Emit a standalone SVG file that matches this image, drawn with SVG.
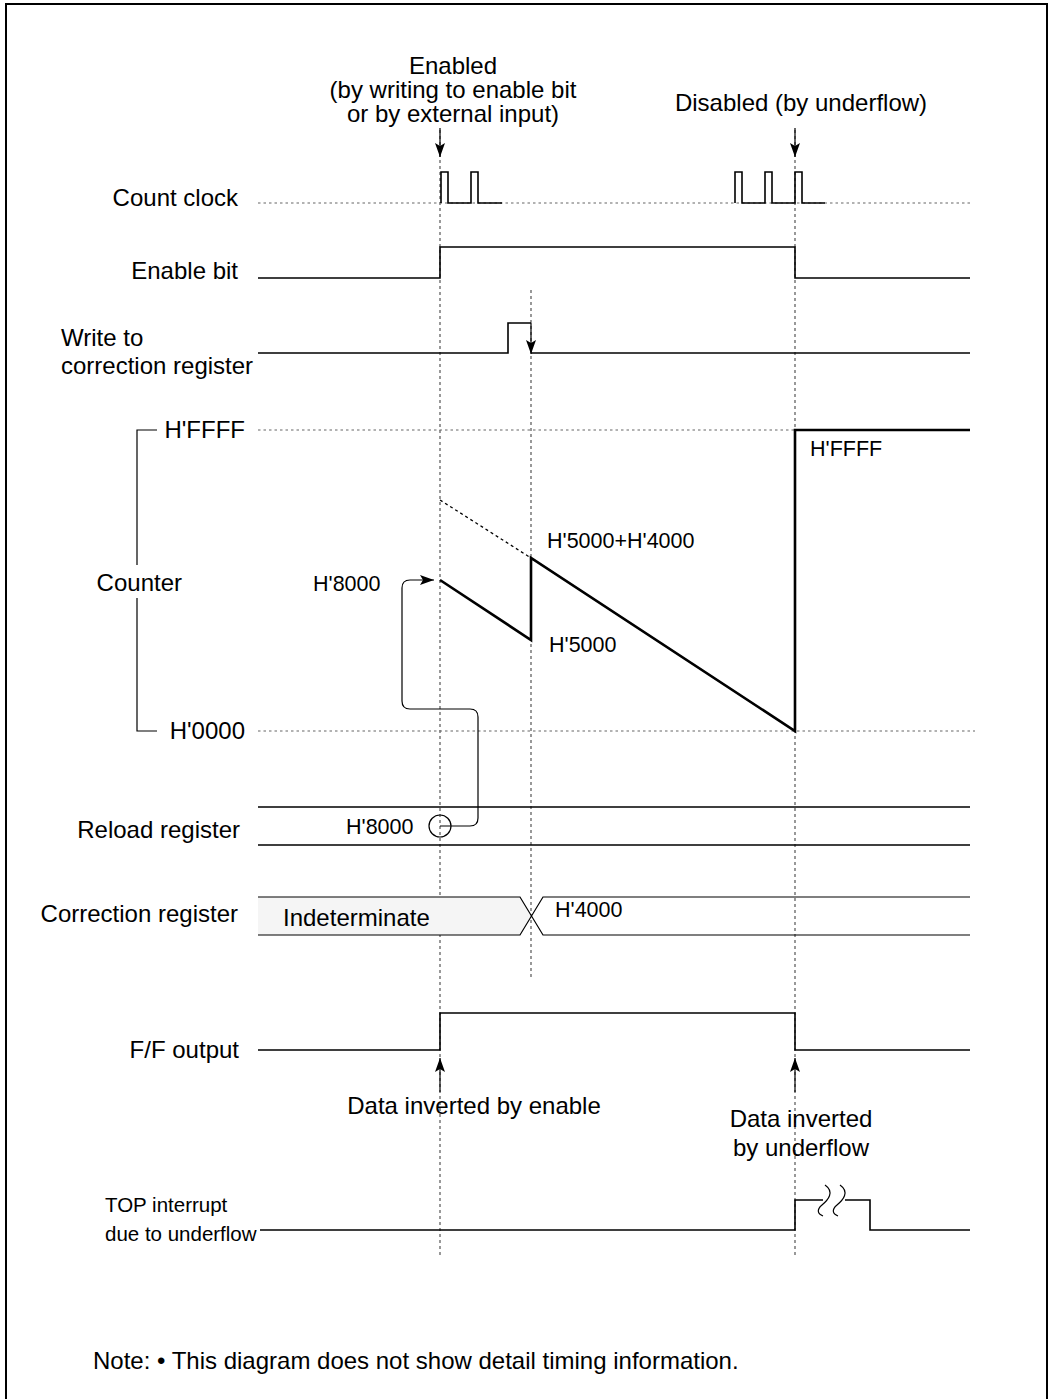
<svg xmlns="http://www.w3.org/2000/svg" width="1048" height="1399" viewBox="0 0 1048 1399">
<style>
text{font-family:"Liberation Sans",Arial,sans-serif;font-size:24px;fill:#000}
.v{font-size:21.5px}
.s{font-size:20.5px}
.w{fill:none;stroke:#000;stroke-width:1.6}
.c{fill:none;stroke:#000;stroke-width:2.6}
.g{fill:none;stroke:#555;stroke-width:1.2;stroke-dasharray:3 3}
.h{fill:none;stroke:#666;stroke-width:1.2;stroke-dasharray:2.5 3}
.t{fill:none;stroke:#000;stroke-width:1.2}
</style>
<defs>
<marker id="ah" viewBox="0 0 14 10" refX="14" refY="5" markerWidth="14" markerHeight="10" markerUnits="userSpaceOnUse" orient="auto">
<path d="M0,0 L14,5 L0,10 L3,5 Z" fill="#000"/>
</marker>
</defs>
<rect x="6" y="4" width="1041" height="1402" fill="#fff" stroke="#000" stroke-width="2"/>

<g id="guides">
<line class="g" x1="440" y1="130" x2="440" y2="1255"/>
<line class="g" x1="531" y1="290" x2="531" y2="980"/>
<line class="g" x1="795" y1="130" x2="795" y2="1255"/>
<line class="h" x1="258" y1="203" x2="970" y2="203"/>
<line class="h" x1="258" y1="430" x2="970" y2="430"/>
<line class="h" x1="258" y1="731" x2="975" y2="731"/>
</g>

<g id="labels">
<text x="453" y="74" text-anchor="middle">Enabled</text>
<text x="453" y="98" text-anchor="middle">(by writing to enable bit</text>
<text x="453" y="122" text-anchor="middle">or by external input)</text>
<text x="801" y="111" text-anchor="middle">Disabled (by underflow)</text>
<text x="238" y="206" text-anchor="end">Count clock</text>
<text x="238" y="279" text-anchor="end">Enable bit</text>
<text x="61" y="346">Write to</text>
<text x="61" y="374">correction register</text>
<text x="182" y="591" text-anchor="end">Counter</text>
<text x="245" y="438" text-anchor="end">H'FFFF</text>
<text x="245" y="739" text-anchor="end">H'0000</text>
<text x="240" y="838" text-anchor="end">Reload register</text>
<text x="238" y="922" text-anchor="end">Correction register</text>
<text x="239" y="1058" text-anchor="end">F/F output</text>
<text class="s" x="105" y="1212">TOP interrupt</text>
<text class="s" x="105" y="1241">due to underflow</text>
<text x="474" y="1114" text-anchor="middle">Data inverted by enable</text>
<text x="801" y="1127" text-anchor="middle">Data inverted</text>
<text x="801" y="1156" text-anchor="middle">by underflow</text>
<text x="93" y="1369">Note: • This diagram does not show detail timing information.</text>
</g>

<g id="count-clock">
<path class="w" d="M441,203 V172 H448 V203 H471 V172 H478 V203 H502"/>
<path class="w" d="M735,203 V172 H742 V203 H765 V172 H772 V203 H795 V172 H802 V203 H825"/>
</g>

<g id="enable-bit">
<path class="w" d="M258,278 H440 V247 H795 V278 H970"/>
</g>

<g id="write-correction">
<path class="w" d="M258,353 H508 V323 H531"/>
<path class="w" d="M531,353 H970"/>
</g>

<g id="counter">
<path class="t" d="M157,430 H137 V565 M137,598 V731 H157"/>
<line x1="440" y1="500" x2="531" y2="558" stroke="#000" stroke-width="1.3" stroke-dasharray="3 3"/>
<path class="c" d="M440,580 L531,640 V558 L795,731 V430 H970"/>
<text class="v" x="313" y="591">H'8000</text>
<text class="v" x="547" y="548">H'5000+H'4000</text>
<text class="v" x="549" y="652">H'5000</text>
<text class="v" x="810" y="456">H'FFFF</text>
</g>

<g id="reload-register">
<path class="w" d="M258,807 H970 M258,845 H970"/>
<circle cx="440" cy="826" r="11" class="t"/>
<text class="v" x="346" y="834">H'8000</text>
</g>

<g id="correction-register">
<path d="M258,897 H520 L531,916 L520,935 H258 Z" fill="#f5f5f5" stroke="none"/>
<path class="t" d="M258,897 H520 L543,935 H970 M258,935 H520 L543,897 H970"/>
<text x="283" y="926">Indeterminate</text>
<text class="v" x="555" y="917">H'4000</text>
</g>

<g id="ff-output">
<path class="w" d="M258,1050 H440 V1013 H795 V1050 H970"/>
</g>

<g id="top-interrupt">
<path class="w" d="M260,1230 H795 V1200 H870 V1230 H970"/>
<path d="M823,1200 H845" stroke="#fff" stroke-width="3"/>
<path class="t" d="M825,1185 C835,1192 828,1200 822,1205 C816,1210 818,1214 823,1216"/>
<path class="t" d="M840,1185 C850,1192 843,1200 837,1205 C831,1210 833,1214 838,1216"/>
</g>

<g id="connectors">
<line class="t" x1="440" y1="128" x2="440" y2="157" marker-end="url(#ah)"/>
<line class="t" x1="795" y1="128" x2="795" y2="157" marker-end="url(#ah)"/>
<line class="t" x1="531" y1="323" x2="531" y2="354" marker-end="url(#ah)"/>
<line class="t" x1="440" y1="1092" x2="440" y2="1058" marker-end="url(#ah)"/>
<line class="t" x1="795" y1="1092" x2="795" y2="1058" marker-end="url(#ah)"/>
<path class="t" d="M440,826 H470 Q478,826 478,818 V717 Q478,709 470,709 H410 Q402,709 402,701 V588 Q402,580 410,580 H434" marker-end="url(#ah)"/>
</g>
</svg>
